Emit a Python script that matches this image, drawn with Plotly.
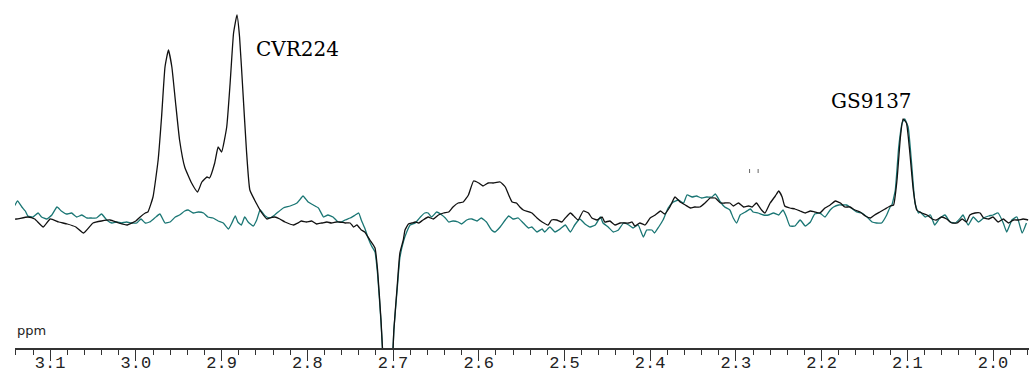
import plotly.graph_objects as go

# spectrum: chemical shift (ppm) and intensity (arb. units)
ppm_cvr = [3.143, 3.139, 3.126, 3.118, 3.108, 3.100, 3.090, 3.080, 3.070, 3.061,
           3.050, 3.040, 3.030, 3.020, 3.010, 3.000, 2.995, 2.989, 2.986, 2.980,
           2.974, 2.970, 2.966, 2.962, 2.958, 2.954, 2.949, 2.943, 2.935, 2.928,
           2.923, 2.917, 2.914, 2.908, 2.904, 2.900, 2.894, 2.890, 2.886, 2.882,
           2.879, 2.875, 2.871, 2.867, 2.859, 2.853, 2.847, 2.844, 2.838, 2.832,
           2.826, 2.816, 2.811, 2.807, 2.801, 2.795, 2.789, 2.783, 2.777, 2.772,
           2.766, 2.762, 2.756, 2.750, 2.746, 2.742, 2.737, 2.733, 2.727, 2.721,
           2.718, 2.714, 2.711, 2.706, 2.701, 2.699, 2.695, 2.692, 2.688, 2.686,
           2.682, 2.678, 2.674, 2.670, 2.665, 2.659, 2.653, 2.647, 2.641, 2.635,
           2.630, 2.624, 2.618, 2.612, 2.606, 2.600, 2.595, 2.589, 2.583, 2.575,
           2.569, 2.565, 2.561, 2.556, 2.552, 2.548, 2.538, 2.532, 2.526, 2.519,
           2.515, 2.509, 2.503, 2.499, 2.493, 2.488, 2.484, 2.478, 2.472, 2.468,
           2.462, 2.456, 2.453, 2.447, 2.441, 2.435, 2.425, 2.421, 2.418, 2.412,
           2.406, 2.400, 2.394, 2.388, 2.383, 2.377, 2.371, 2.365, 2.359, 2.353,
           2.348, 2.342, 2.336, 2.330, 2.324, 2.318, 2.313, 2.307, 2.303, 2.297,
           2.291, 2.285, 2.281, 2.276, 2.270, 2.266, 2.260, 2.254, 2.250, 2.246,
           2.243, 2.237, 2.231, 2.225, 2.219, 2.213, 2.208, 2.202, 2.196, 2.190,
           2.184, 2.178, 2.173, 2.167, 2.161, 2.155, 2.149, 2.143, 2.138, 2.132,
           2.126, 2.120, 2.116, 2.112, 2.108, 2.105, 2.101, 2.097, 2.093, 2.089,
           2.083, 2.077, 2.071, 2.066, 2.060, 2.054, 2.048, 2.042, 2.036, 2.031,
           2.027, 2.021, 2.015, 2.011, 2.005, 2.000, 1.994, 1.988, 1.982, 1.976,
           1.970, 1.965, 1.959]
int_cvr = [-1, -1, 1, -1, -9, -1, -4, -6, -9, -15,
           -5, -3, -2, -5, -7, -3, 1, 5, 6, 21,
           58, 101, 151, 168, 151, 118, 78, 51, 35, 26,
           36, 41, 40, 55, 71, 66, 91, 135, 185, 203,
           181, 125, 68, 28, 14, 5, -1, 0, 1, -1,
           -4, -7, -5, -3, -4, -3, -6, -5, -4, -5,
           -4, -4, -5, -5, -9, -7, -12, -14, -22, -30,
           -52, -102, -152, -240, -152, -112, -67, -35, -22, -12,
           -6, -5, -4, -5, -2, 1, -1, 3, 5, 6,
           11, 15, 16, 23, 37, 35, 32, 35, 35, 36,
           31, 23, 16, 15, 11, 8, 5, 0, -4, -7,
           -2, -2, -4, 0, 5, 1, -2, 7, 5, 0,
           -2, 1, -4, -3, -7, -5, -5, -4, -8, -5,
           -7, 0, 3, 7, 4, 11, 21, 16, 13, 10,
           11, 11, 15, 20, 20, 15, 15, 15, 12, 15,
           11, 12, 11, 15, 8, 5, 15, 22, 27, 21,
           12, 10, 9, 7, 5, 7, 6, 5, 10, 13,
           17, 15, 11, 11, 8, 6, 2, 0, 3, 6,
           9, 12, 13, 38, 81, 99, 95, 65, 28, 8,
           5, 3, -1, -2, 1, -1, -5, -5, -1, -4,
           3, 5, 5, 0, -1, 1, -4, -1, -5, -2,
           -2, -1, -2]

ppm_gs = [3.144, 3.138, 3.133, 3.129, 3.126, 3.120, 3.114, 3.110, 3.104, 3.098,
          3.092, 3.087, 3.081, 3.075, 3.069, 3.063, 3.057, 3.052, 3.046, 3.040,
          3.034, 3.028, 3.022, 3.017, 3.011, 3.005, 2.999, 2.994, 2.989, 2.984,
          2.978, 2.972, 2.966, 2.960, 2.954, 2.949, 2.943, 2.939, 2.933, 2.927,
          2.921, 2.916, 2.910, 2.904, 2.898, 2.892, 2.888, 2.884, 2.881, 2.877,
          2.873, 2.869, 2.863, 2.859, 2.855, 2.849, 2.844, 2.838, 2.834, 2.828,
          2.820, 2.812, 2.809, 2.805, 2.799, 2.793, 2.787, 2.781, 2.776, 2.770,
          2.764, 2.760, 2.756, 2.750, 2.744, 2.740, 2.737, 2.733, 2.729, 2.725,
          2.721, 2.718, 2.714, 2.711, 2.706, 2.701, 2.699, 2.695, 2.692, 2.688,
          2.684, 2.680, 2.674, 2.668, 2.663, 2.659, 2.655, 2.649, 2.643, 2.639,
          2.635, 2.630, 2.624, 2.620, 2.614, 2.608, 2.602, 2.597, 2.591, 2.585,
          2.581, 2.575, 2.569, 2.565, 2.560, 2.554, 2.548, 2.542, 2.538, 2.532,
          2.526, 2.523, 2.517, 2.511, 2.505, 2.499, 2.493, 2.488, 2.482, 2.476,
          2.470, 2.464, 2.458, 2.455, 2.449, 2.443, 2.437, 2.431, 2.425, 2.420,
          2.414, 2.408, 2.404, 2.398, 2.395, 2.390, 2.385, 2.379, 2.373, 2.367,
          2.361, 2.357, 2.351, 2.346, 2.340, 2.334, 2.328, 2.324, 2.318, 2.313,
          2.307, 2.303, 2.299, 2.295, 2.289, 2.283, 2.280, 2.274, 2.268, 2.262,
          2.256, 2.250, 2.245, 2.241, 2.237, 2.231, 2.225, 2.219, 2.213, 2.208,
          2.202, 2.196, 2.190, 2.186, 2.180, 2.175, 2.171, 2.167, 2.159, 2.153,
          2.147, 2.141, 2.136, 2.130, 2.124, 2.120, 2.118, 2.114, 2.110, 2.106,
          2.103, 2.099, 2.095, 2.091, 2.087, 2.085, 2.079, 2.073, 2.068, 2.062,
          2.056, 2.050, 2.044, 2.038, 2.035, 2.029, 2.023, 2.017, 2.011, 2.005,
          2.000, 1.994, 1.988, 1.984, 1.978, 1.972, 1.966, 1.961]
int_gs = [8, 17, 11, 7, 2, 1, 5, 1, -1, 3,
          11, 7, 4, 5, 1, 3, 0, 0, 0, 4,
          -2, -5, -4, -5, -4, -5, -5, -1, -5, -4,
          0, 4, -5, -4, 1, 3, 7, 8, 5, 6,
          5, 1, 0, -3, -5, -11, -5, 2, -4, -7,
          1, -4, -8, -2, 8, 2, 0, 3, 6, 10,
          12, 15, 18, 22, 16, 13, 10, 1, 3, 1,
          -4, -4, -2, 0, 3, 5, -2, -10, -20, -28,
          -34, -56, -104, -152, -240, -152, -112, -70, -40, -24,
          -14, -7, -5, 1, 5, 5, 1, 6, 3, 0,
          -4, -3, -4, -6, -2, -1, -3, 0, -4, -12,
          -14, -9, -2, 2, -1, 0, -5, -10, -9, -14,
          -11, -14, -9, -14, -11, -7, -14, -7, -1, -6,
          -9, -7, 1, -5, -9, -14, -12, -5, -7, -10,
          -7, -19, -12, -12, -15, -9, -2, 10, 16, 18,
          15, 23, 21, 22, 20, 21, 21, 24, 16, 11,
          8, 0, -5, 3, 6, 9, 6, 5, 3, 3,
          5, 3, 8, 1, -8, -8, -2, -8, -4, 4,
          5, 1, 8, 11, 13, 13, 13, 11, 6, 5,
          1, -4, -5, -5, 3, 11, 13, 28, 71, 95,
          99, 91, 55, 15, 5, 6, 1, 3, -7, 0,
          3, -4, -5, 0, 3, -7, 1, -4, 0, 2,
          3, 5, -5, -14, -2, 1, -15, -5]

fig = go.Figure()
fig.add_trace(go.Scatter(x=ppm_gs, y=int_gs, mode="lines",
                         line=dict(color="#1a7674", width=1.3, shape="spline", smoothing=0.4),
                         name="GS9137", hoverinfo="skip"))
fig.add_trace(go.Scatter(x=ppm_cvr, y=int_cvr, mode="lines",
                         line=dict(color="#111111", width=1.3, shape="spline", smoothing=0.4),
                         name="CVR224", hoverinfo="skip"))

# peak labels
fig.add_annotation(x=2.811, y=169, text="CVR224", showarrow=False,
                   font=dict(family="DejaVu Serif", size=20, color="#000000"))
fig.add_annotation(x=2.142, y=117, text="GS9137", showarrow=False,
                   font=dict(family="DejaVu Serif", size=20, color="#000000"))
fig.add_annotation(x=0, y=0.05, xref="paper", yref="paper", text="ppm", showarrow=False,
                   xanchor="left", yanchor="middle",
                   font=dict(family="DejaVu Sans", size=13, color="#222222"))

# two small marks above the baseline
for xm in [2.284, 2.274]:
    fig.add_shape(type="line", x0=xm, x1=xm, y0=45, y1=49,
                  line=dict(color="#666666", width=1))

fig.update_layout(
    width=1029, height=378,
    margin=dict(l=15, r=0, t=0, b=30),
    plot_bgcolor="white", paper_bgcolor="white",
    showlegend=False,
    xaxis=dict(range=[3.141, 1.958], dtick=0.1, tick0=2.0, tickformat=".1f",
               showgrid=False, zeroline=False,
               showline=True, linecolor="#333333", linewidth=1.5,
               ticks="outside", ticklen=11, tickwidth=1.3, tickcolor="#333333",
               ticklabelstandoff=-13,
               tickfont=dict(family="Liberation Mono", size=17, color="#222222"),
               minor=dict(dtick=0.02, tick0=2.0, ticks="outside", ticklen=5,
                          tickwidth=1.3, tickcolor="#333333", showgrid=False)),
    yaxis=dict(range=[-130, 218], visible=False),
)

# page body has a default margin; remove it so the chart fills the window
fig.write_html("out.html", config={"displayModeBar": False},
               post_script="document.body.style.margin='0px';")
